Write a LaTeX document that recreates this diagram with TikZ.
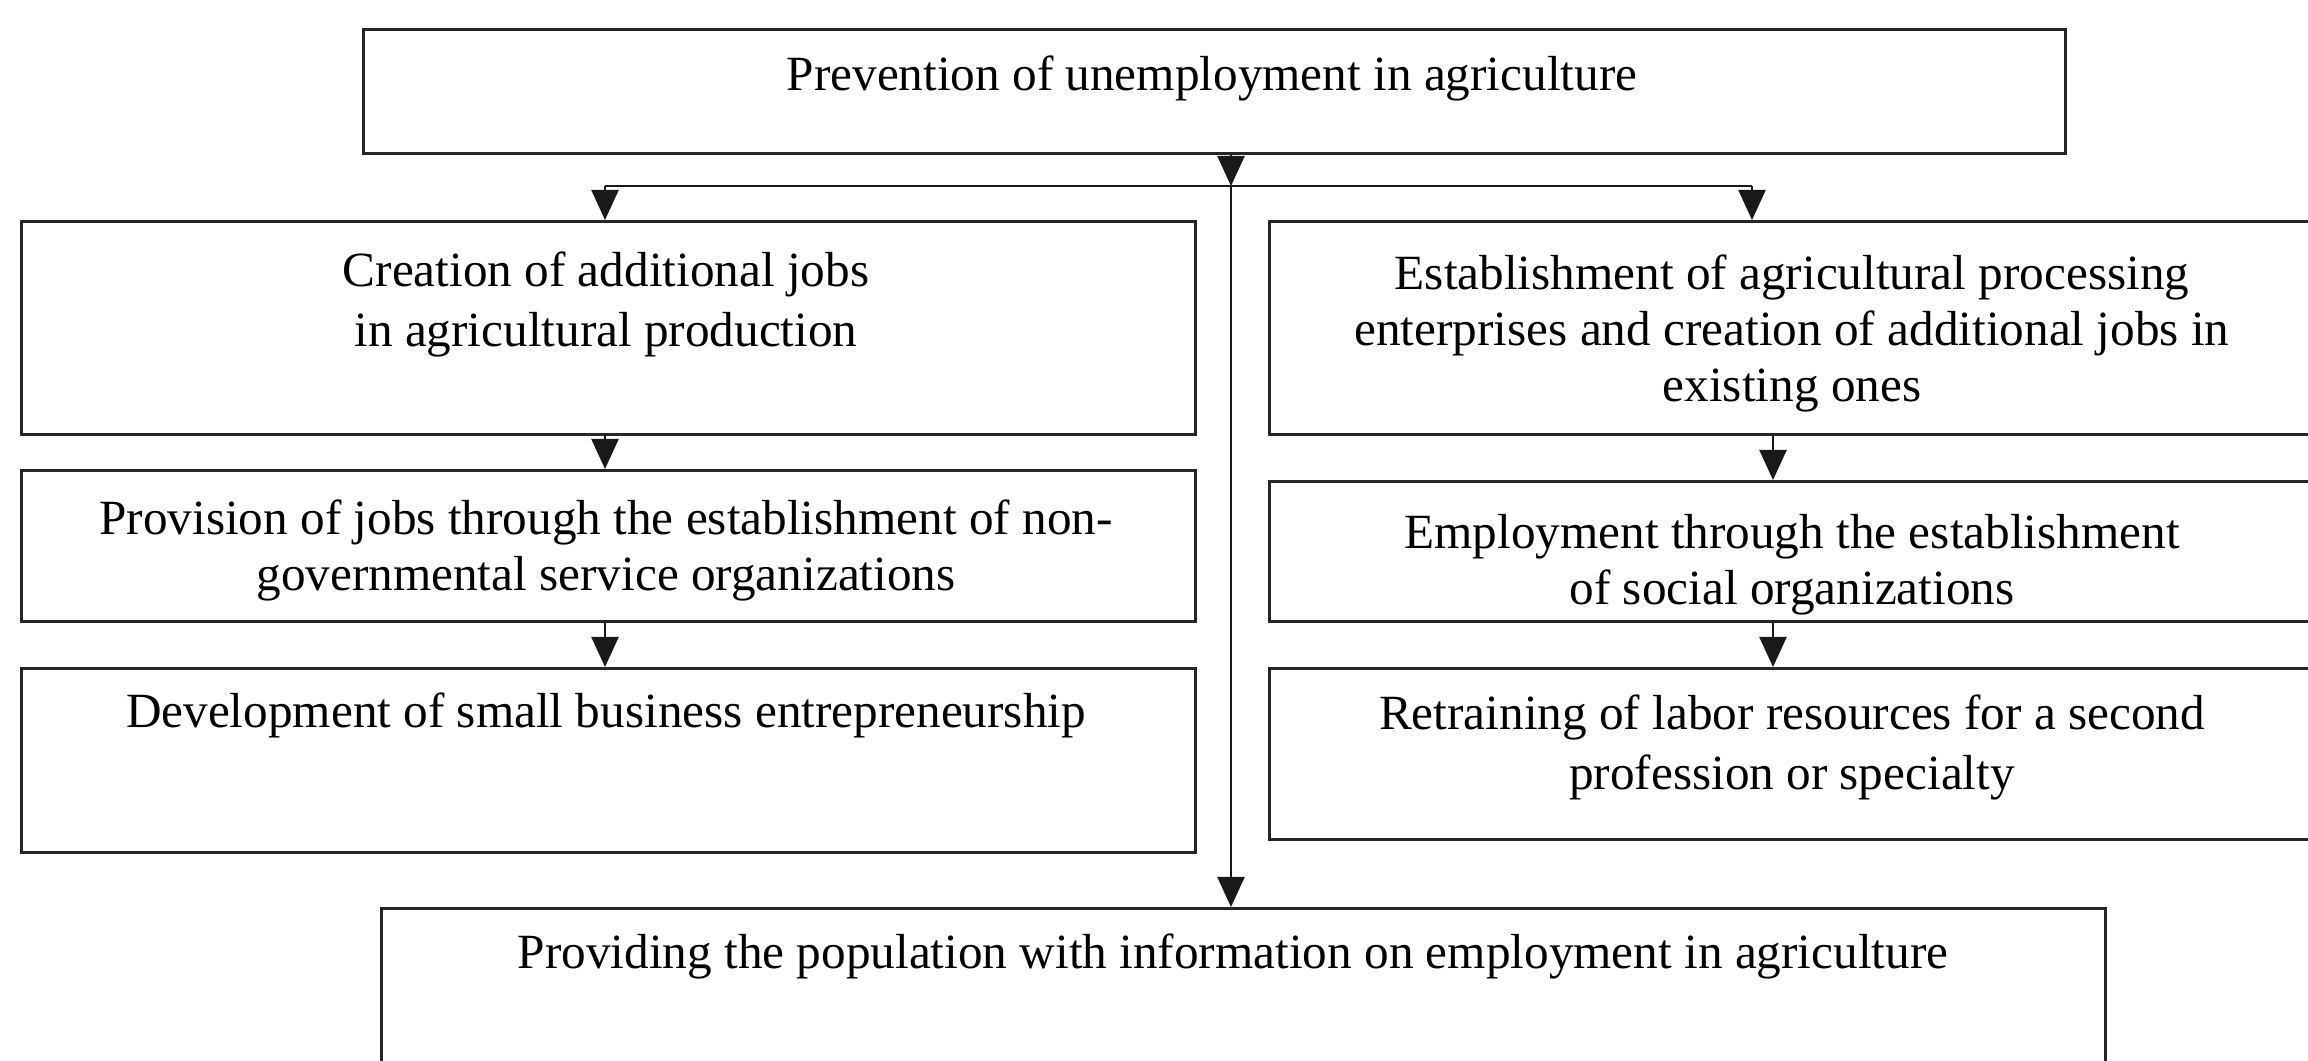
\documentclass[tikz,border=0pt]{standalone}
\usepackage{fontspec}
\setmainfont{Liberation Serif}
\usetikzlibrary{arrows.meta}
\tikzset{
  box/.style={draw=black!85, line width=0.85pt, rectangle, inner sep=0pt, anchor=north west},
  txt/.style={inner sep=0pt, anchor=north, align=center, font=\fontsize{14}{15.9}\selectfont},
  wide/.style={font=\fontsize{14}{17}\selectfont},
  conn/.style={draw=black!90, line width=0.6pt},
  arr/.style={conn, -{Triangle[length=0.3cm,width=0.27cm]}}
}
\begin{document}
\begin{tikzpicture}[x=0.01cm, y=-0.01cm]
\useasboundingbox (0,0) rectangle (2308,1060);
% boxes
\node[box, minimum width=17.01cm, minimum height=1.24cm] (top) at (362,28) {};
\node[box, minimum width=11.73cm, minimum height=2.13cm] (L1) at (20,220) {};
\node[box, minimum width=11.73cm, minimum height=1.51cm] (L2) at (20,469) {};
\node[box, minimum width=11.73cm, minimum height=1.84cm] (L3) at (20,667) {};
\node[box, minimum width=10.48cm, minimum height=2.13cm] (R1) at (1268,220) {};
\node[box, minimum width=10.48cm, minimum height=1.40cm] (R2) at (1268,480) {};
\node[box, minimum width=10.48cm, minimum height=1.71cm] (R3) at (1268,667) {};
\node[box, minimum width=17.23cm, minimum height=2.00cm] (bot) at (380,907) {};
% texts
\node[txt] (ttop) at (1212,51) {\strut Prevention of unemployment in agriculture};
\node[txt, wide] (tL1) at (606,244) {\strut Creation of additional jobs\\\strut in agricultural production};
\node[txt] (tL2) at (606,495) {\strut Provision of jobs through the establishment of non-\\\strut governmental service organizations};
\node[txt] (tL3) at (606,688) {\strut Development of small business entrepreneurship};
\node[txt] (tR1) at (1792,250) {\strut Establishment of agricultural processing\\\strut enterprises and creation of additional jobs in\\\strut existing ones};
\node[txt] (tR2) at (1792,509) {\strut Employment through the establishment\\\strut of social organizations};
\node[txt, wide] (tR3) at (1792,687) {\strut Retraining of labor resources for a second\\\strut profession or specialty};
\node[txt] (tbot) at (1233,929) {\strut Providing the population with information on employment in agriculture};
% junctions
\coordinate (jc) at (1231,186);
\coordinate (jl) at (605,186);
\coordinate (jr) at (1752,186);
\coordinate (xl) at (605,0);
\coordinate (xr) at (1773,0);
% connectors
\draw[arr] (top.south -| jc) -- (jc);
\draw[conn] (jl) -- (jr);
\draw[arr] (jl) -- (L1.north -| jl);
\draw[arr] (jr) -- (R1.north -| jr);
\draw[arr] (jc) -- (bot.north -| jc);
\draw[arr] (L1.south -| xl) -- (L2.north -| xl);
\draw[arr] (L2.south -| xl) -- (L3.north -| xl);
\draw[arr] (R1.south -| xr) -- (R2.north -| xr);
\draw[arr] (R2.south -| xr) -- (R3.north -| xr);
\end{tikzpicture}
\end{document}
